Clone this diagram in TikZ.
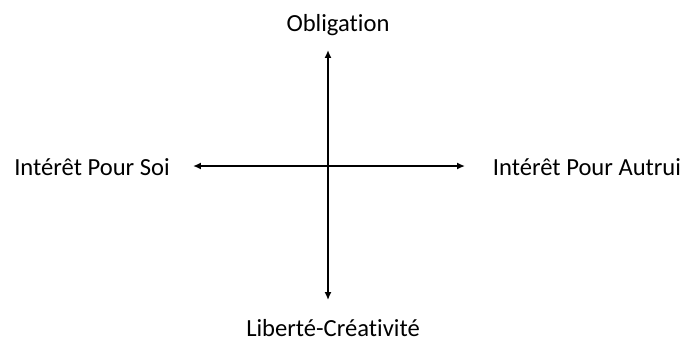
\documentclass[tikz,border=0pt]{standalone}
\usepackage{fontspec}
\setmainfont{Carlito}[Ligatures=NoCommon]
\usetikzlibrary{arrows.meta}

\begin{document}
\begin{tikzpicture}[
    x=0.02cm, y=-0.02cm,
    label/.style={inner sep=0pt, anchor=base, font=\fontsize{14}{16}\selectfont},
    axe/.style={{Latex[length=4.5pt,width=4pt]}-{Latex[length=4.5pt,width=4pt]}, line width=1.1pt}
]
\useasboundingbox (0,0) rectangle (685,343);

\node[label] (obl) at (338,31) {Obligation};
\node[label] (lib) at (333,336) {Liberté-Créativité};
\node[label] (soi) at (92,175) {Intérêt Pour Soi};
\node[label] (autrui) at (587,175) {Intérêt Pour Autrui};

\coordinate (haut) at (328,50);
\coordinate (bas) at (328,300);
\coordinate (gauche) at (193,166);
\coordinate (droite) at (465,166);

\draw[axe] (haut) -- (bas);
\draw[axe] (gauche) -- (droite);
\end{tikzpicture}
\end{document}
